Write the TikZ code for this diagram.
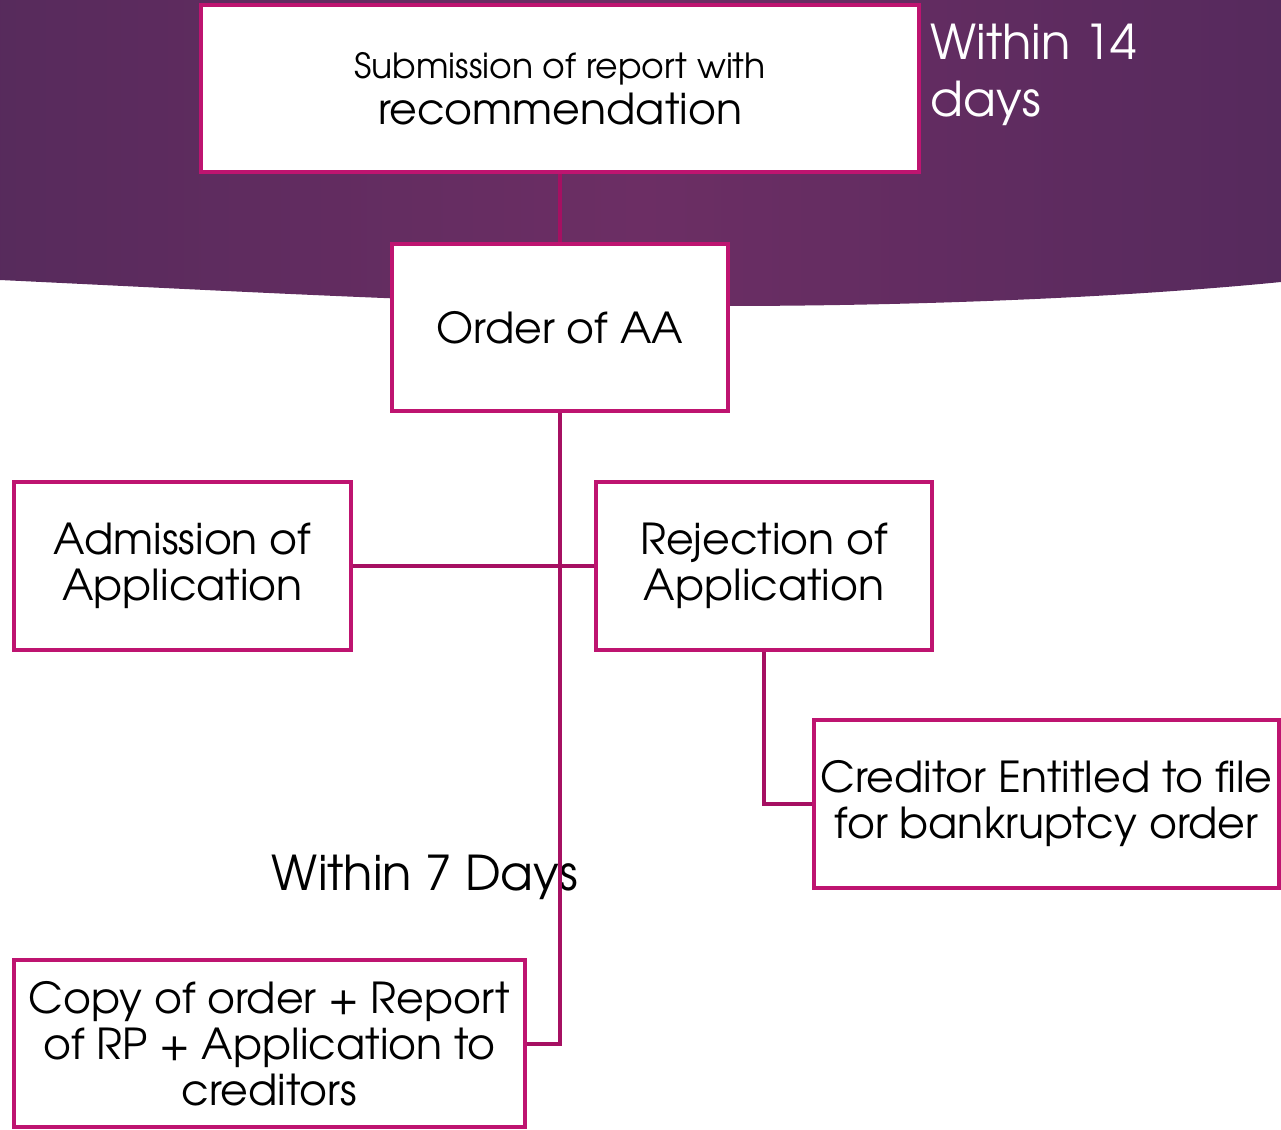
\documentclass[tikz,border=0pt]{standalone}
\usepackage{fontspec}
\setmainfont{TeX Gyre Adventor}
\usepackage{tikz}
\usetikzlibrary{positioning}

\definecolor{boxmag}{RGB}{190,20,112}
\definecolor{linemag}{RGB}{166,16,98}
\definecolor{bandleft}{RGB}{66,39,84}
\definecolor{bandmid}{RGB}{108,46,100}
\definecolor{bandright}{RGB}{64,38,86}

\pgfdeclarehorizontalshading{bandshade}{100bp}{color(0bp)=(bandleft); color(50bp)=(bandmid); color(100bp)=(bandright)}

\tikzset{
  stepbox/.style={draw=boxmag, line width=3pt, fill=white, align=center, inner sep=1pt,
    font=\fontsize{32}{34.5}\selectfont},
  joinline/.style={draw=linemag, line width=3pt},
}

\begin{document}
\begin{tikzpicture}[x=0.75pt,y=0.75pt,yscale=-1,xscale=1]
\useasboundingbox (0,0) rectangle (1281,1130);

%Shape: Band
\shade [shading=bandshade]
  (0,0) -- (1281,0) -- (1281,282) .. controls (1150,295) and (950,306) .. (720,306)
  .. controls (500,306) and (250,292) .. (0,280) -- cycle ;

% Boxes
\node [stepbox, minimum width=538.5pt, minimum height=125.25pt] (sub) at (560,88.5)
  {{\fontsize{26}{33}\selectfont Submission of report with}\\recommendation};
\node [stepbox, minimum width=252pt, minimum height=125.25pt] (order) at (560,327.5) {Order of AA};
\node [stepbox, minimum width=252.75pt, minimum height=126pt] (adm) at (182.5,566) {Admission of\\Application};
\node [stepbox, minimum width=252pt, minimum height=126pt] (rej) at (764,566) {Rejection of\\Application};
\node [stepbox, minimum width=348.75pt, minimum height=126pt] (cred) at (1046.5,804) {Creditor Entitled to file\\for bankruptcy order};
\node [stepbox, minimum width=383.25pt, minimum height=125.25pt] (copy) at (269.5,1043.5) {Copy of order + Report\\of RP + Application to\\creditors};

% Text Node
\node [anchor=north west, align=left, text=white, font=\fontsize{36}{43}\selectfont] (fourteen) at (926,19) {Within 14\\days};
% Text Node
\node [font=\fontsize{36}{41}\selectfont] (seven) at (425,877) {Within 7 Days};

% Connectors
\draw [joinline] (sub.south) -- (order.north);
\draw [joinline] (order.south) |- (copy.east);
\draw [joinline] (adm.east) -- (rej.west);
\draw [joinline] (rej.south) |- (cred.west);

\end{tikzpicture}
\end{document}
